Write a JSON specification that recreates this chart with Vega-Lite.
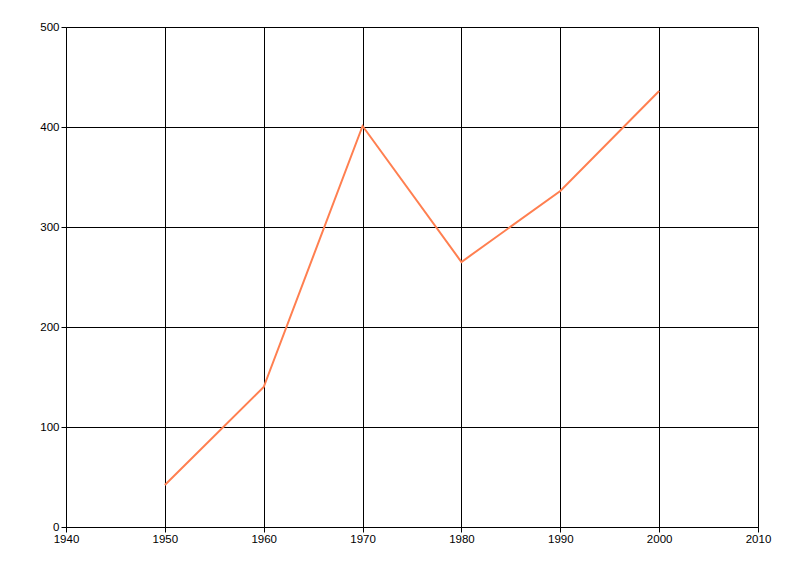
{
  "$schema": "https://vega.github.io/schema/vega-lite/v6.json",
  "autosize": "none",
  "width": 692,
  "height": 500,
  "padding": {"left": 66, "top": 27, "right": 42, "bottom": 49},
  "background": "white",
  "config": {"view": {"stroke": null}},
  "data": {"values": [
    {"year": 1950, "value": 42},
    {"year": 1960, "value": 140},
    {"year": 1970, "value": 401},
    {"year": 1980, "value": 265},
    {"year": 1990, "value": 336},
    {"year": 2000, "value": 436}
  ]},
  "mark": {"type": "line", "color": "#FF7F50", "strokeWidth": 2},
  "encoding": {
    "x": {"field": "year", "type": "quantitative",
      "scale": {"domain": [1940, 2010], "nice": false, "zero": false},
      "axis": {"title": null, "values": [1940, 1950, 1960, 1970, 1980, 1990, 2000, 2010], "format": "d",
        "grid": true, "gridColor": "black", "gridOpacity": 1, "gridWidth": 1,
        "domainColor": "black", "domainWidth": 1, "tickColor": "black", "tickSize": 5,
        "labelColor": "black", "labelFont": "Liberation Sans", "labelFontSize": 11.5, "labelPadding": 1, "labelFlush": false}},
    "y": {"field": "value", "type": "quantitative",
      "scale": {"domain": [0, 500], "nice": false},
      "axis": {"title": null, "values": [0, 100, 200, 300, 400, 500],
        "grid": true, "gridColor": "black", "gridOpacity": 1, "gridWidth": 1,
        "domainColor": "black", "domainWidth": 1, "tickColor": "black", "tickSize": 5,
        "labelColor": "black", "labelFont": "Liberation Sans", "labelFontSize": 11.5, "labelPadding": 2, "labelFlush": false}}
  }
}
